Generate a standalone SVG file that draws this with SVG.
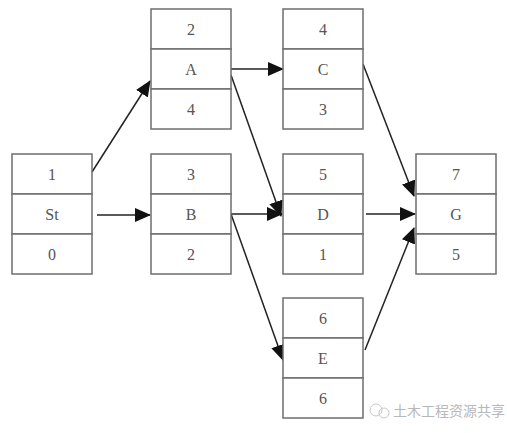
<svg xmlns="http://www.w3.org/2000/svg" width="507" height="433" viewBox="0 0 507 433">
<style>
.cell{fill:#fff;stroke:#6e6e6e;stroke-width:1.5}
.t{font-family:"Liberation Serif",serif;font-size:16px;fill:#555;text-anchor:middle;dominant-baseline:central}
.c{stroke:#222;stroke-width:1.5;fill:none;marker-end:url(#ah)}
.wm{font-family:"Noto Sans CJK SC",sans-serif;font-size:14px;fill:#b8b8b8}
</style>
<defs>
<marker id="ah" markerUnits="userSpaceOnUse" markerWidth="16" markerHeight="14" refX="15" refY="7" orient="auto">
<path d="M0,0 L16,7 L0,14 Z" fill="#111"/>
</marker>
</defs>
<rect width="507" height="433" fill="#fff"/>
<g id="connectors">
<line class="c" x1="92" y1="172" x2="150" y2="81"/>
<line class="c" x1="97" y1="215" x2="150" y2="215"/>
<line class="c" x1="231" y1="69" x2="283" y2="69"/>
<line class="c" x1="231" y1="75" x2="281" y2="216"/>
<line class="c" x1="231" y1="214" x2="282" y2="214"/>
<line class="c" x1="231" y1="214" x2="283" y2="360"/>
<line class="c" x1="363" y1="64" x2="414" y2="196"/>
<line class="c" x1="366" y1="214" x2="415" y2="214"/>
<line class="c" x1="365" y1="350" x2="414" y2="228"/>
</g>
<g id="node-St">
<rect class="cell" x="12" y="154" width="80" height="40"/>
<rect class="cell" x="12" y="194" width="80" height="40"/>
<rect class="cell" x="12" y="234" width="80" height="40"/>
<text class="t" x="52" y="174">1</text>
<text class="t" x="52" y="214">St</text>
<text class="t" x="52" y="254">0</text>
</g>
<g id="node-A">
<rect class="cell" x="151" y="9" width="80" height="40"/>
<rect class="cell" x="151" y="49" width="80" height="40"/>
<rect class="cell" x="151" y="89" width="80" height="40"/>
<text class="t" x="191" y="29">2</text>
<text class="t" x="191" y="69">A</text>
<text class="t" x="191" y="109">4</text>
</g>
<g id="node-B">
<rect class="cell" x="151" y="154" width="80" height="40"/>
<rect class="cell" x="151" y="194" width="80" height="40"/>
<rect class="cell" x="151" y="234" width="80" height="40"/>
<text class="t" x="191" y="174">3</text>
<text class="t" x="191" y="214">B</text>
<text class="t" x="191" y="254">2</text>
</g>
<g id="node-C">
<rect class="cell" x="283" y="9" width="80" height="40"/>
<rect class="cell" x="283" y="49" width="80" height="40"/>
<rect class="cell" x="283" y="89" width="80" height="40"/>
<text class="t" x="323" y="29">4</text>
<text class="t" x="323" y="69">C</text>
<text class="t" x="323" y="109">3</text>
</g>
<g id="node-D">
<rect class="cell" x="283" y="154" width="80" height="40"/>
<rect class="cell" x="283" y="194" width="80" height="40"/>
<rect class="cell" x="283" y="234" width="80" height="40"/>
<text class="t" x="323" y="174">5</text>
<text class="t" x="323" y="214">D</text>
<text class="t" x="323" y="254">1</text>
</g>
<g id="node-E">
<rect class="cell" x="283" y="298" width="80" height="40"/>
<rect class="cell" x="283" y="338" width="80" height="40"/>
<rect class="cell" x="283" y="378" width="80" height="40"/>
<text class="t" x="323" y="318">6</text>
<text class="t" x="323" y="358">E</text>
<text class="t" x="323" y="398">6</text>
</g>
<g id="node-G">
<rect class="cell" x="416" y="154" width="80" height="40"/>
<rect class="cell" x="416" y="194" width="80" height="40"/>
<rect class="cell" x="416" y="234" width="80" height="40"/>
<text class="t" x="456" y="174">7</text>
<text class="t" x="456" y="214">G</text>
<text class="t" x="456" y="254">5</text>
</g>
<g id="watermark">
<circle cx="376" cy="410" r="6" fill="none" stroke="#c8c8c8" stroke-width="1"/>
<circle cx="384" cy="413" r="5" fill="none" stroke="#c8c8c8" stroke-width="1"/>
<text class="wm" x="393" y="416">土木工程资源共享</text>
</g>
</svg>
